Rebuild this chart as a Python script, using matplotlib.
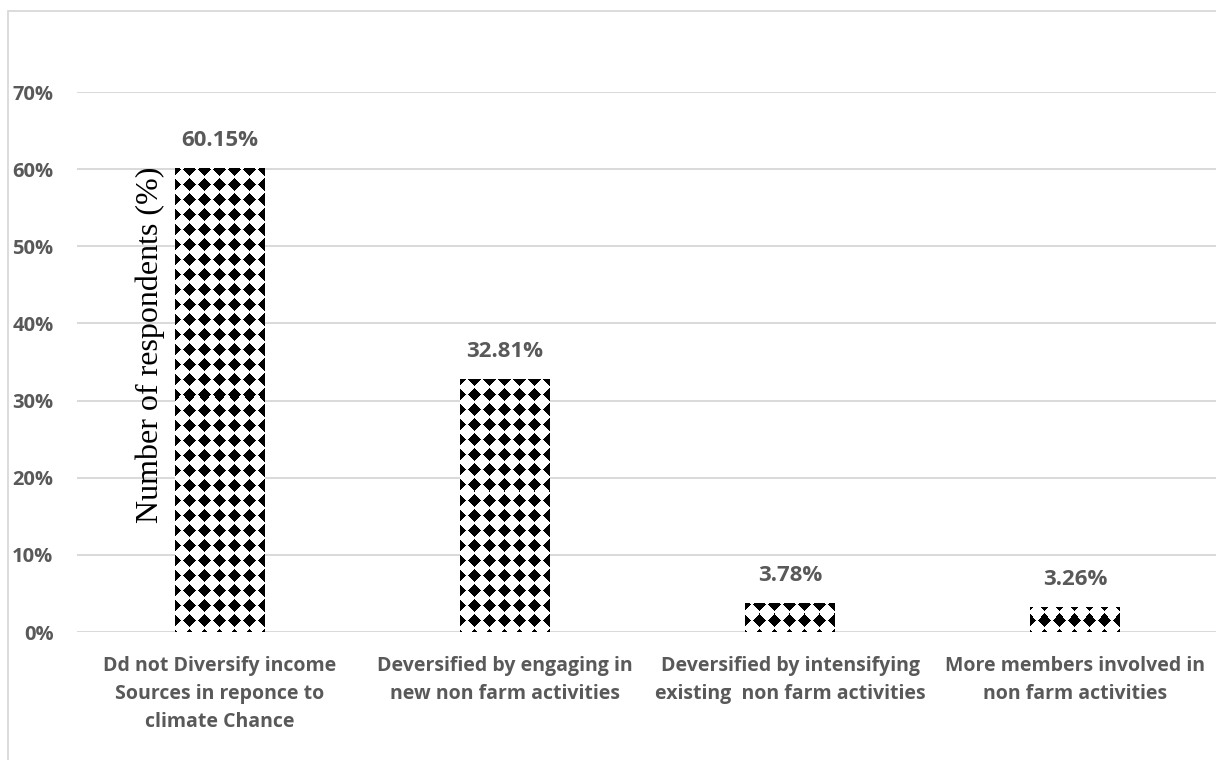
import numpy as np
import matplotlib
matplotlib.use("Agg")
import matplotlib.pyplot as plt
from matplotlib.patches import Rectangle

categories = [
    "Dd not Diversify income\nSources in reponce to\nclimate Chance",
    "Deversified by engaging in\nnew non farm activities",
    "Deversified by intensifying\nexisting  non farm activities",
    "More members involved in\nnon farm activities",
]
values = [60.15, 32.81, 3.78, 3.26]
value_labels = ["60.15%", "32.81%", "3.78%", "3.26%"]
yticks = [0, 10, 20, 30, 40, 50, 60, 70]
ytick_labels = ["0%", "10%", "20%", "30%", "40%", "50%", "60%", "70%"]
ylabel = "Number of respondents (%)"

W, H = 1216, 760
DPI = 100
fig = plt.figure(figsize=(W / DPI, H / DPI), dpi=DPI)

TXT = "#595959"
GRID = "#d9d9d9"
FONT = "Open Sans"

# outer chart border
fig.patches.append(Rectangle((8 / W, -0.1), 1.2, (H - 11) / H + 0.1,
                             transform=fig.transFigure, fill=False,
                             edgecolor=GRID, lw=1.3))

ax_l, ax_r = 77, 1218
ax_b, ax_t = H - 632, H - 92
ax = fig.add_axes([ax_l / W, ax_b / H, (ax_r - ax_l) / W, (ax_t - ax_b) / H])
ax.patch.set_alpha(0)

x = np.arange(len(categories))
bars = ax.bar(x, values, width=0.315, color="white", edgecolor="none", zorder=2)

xlim = (-0.5, len(categories) - 0.5)
ylim = (0, 70)

# diamond pattern, one array pixel per screen pixel (15 px cells)
pw, ph = ax_r - ax_l, ax_t - ax_b
py, px = np.mgrid[0:ph, 0:pw]
cell = 15
dx = np.abs(px % cell - 7)
dy = np.abs((py + 4) % cell - 7)
mask = (dx + dy) <= 6
img = np.where(mask, 0.0, 1.0)
for b in bars:
    im = ax.imshow(img, extent=(xlim[0], xlim[1], ylim[0], ylim[1]),
                   aspect="auto", interpolation="nearest", cmap="gray",
                   vmin=0, vmax=1, zorder=3, origin="upper")
    im.set_clip_path(b)

ax.set_xlim(*xlim)
ax.set_ylim(*ylim)

for yv in yticks:
    ax.axhline(yv, color=GRID, lw=1.4, zorder=1)

for s in ax.spines.values():
    s.set_visible(False)

ax.set_yticks(yticks)
ax.set_yticklabels(ytick_labels, fontfamily=FONT, fontweight="bold",
                   fontsize=14.5, color=TXT)
ax.tick_params(axis="y", length=0, pad=17)
ax.set_xticks(x)
ax.set_xticklabels(categories, fontfamily=FONT, fontweight="bold",
                   fontsize=14, color=TXT, linespacing=1.55)
ax.tick_params(axis="x", length=0, pad=17)

for b, lab in zip(bars, value_labels):
    ax.annotate(lab, (b.get_x() + b.get_width() / 2, b.get_height()),
                xytext=(0, 20), textcoords="offset points",
                ha="center", va="center", fontfamily=FONT,
                fontweight="bold", fontsize=16, color=TXT)

fig.text(150 / W, 1 - 345 / H, ylabel, rotation=90, ha="center", va="center",
         fontfamily="Liberation Serif", fontsize=23, color="black")

fig.savefig("out.png", dpi=DPI)
